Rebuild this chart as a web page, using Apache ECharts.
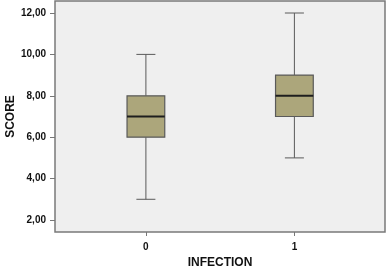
<!DOCTYPE html>
<html>
<head>
<meta charset="utf-8">
<script src="https://cdn.jsdelivr.net/npm/echarts@6/dist/echarts.min.js"></script>
<style>
  html, body { margin: 0; padding: 0; background: #fff; }
  #chart { width: 387px; height: 267px; }
</style>
</head>
<body>
<div id="chart"></div>
<script>
// groups on the x axis
const groups = [0, 1]
// box statistics per group
const mins = [3, 5]
const q1s = [6, 7]
const medians = [7, 8]
const q3s = [8, 9]
const maxs = [10, 12]
// y tick labels
const yTicks = [2, 4, 6, 8, 10, 12]

const boxData = groups.map((g, i) => [g, mins[i], q1s[i], medians[i], q3s[i], maxs[i]])

const BOX_W = 0.254 // in x units
const CAP_W = 0.128

function renderBox(params, api) {
  const x = api.value(0)
  const lo = api.coord([x, api.value(1)])
  const b1 = api.coord([x - BOX_W / 2, api.value(2)])
  const b2 = api.coord([x + BOX_W / 2, api.value(4)])
  const med = api.coord([x, api.value(3)])
  const hi = api.coord([x, api.value(5)])
  const capL = api.coord([x - CAP_W / 2, 5])[0]
  const capR = api.coord([x + CAP_W / 2, 5])[0]
  const stroke = { stroke: '#5a5a5a', lineWidth: 1 }
  return {
    type: 'group',
    children: [
      { type: 'line', shape: { x1: lo[0], y1: lo[1], x2: lo[0], y2: b1[1] }, style: stroke },
      { type: 'line', shape: { x1: hi[0], y1: hi[1], x2: hi[0], y2: b2[1] }, style: stroke },
      { type: 'line', shape: { x1: capL, y1: lo[1], x2: capR, y2: lo[1] }, style: stroke },
      { type: 'line', shape: { x1: capL, y1: hi[1], x2: capR, y2: hi[1] }, style: stroke },
      {
        type: 'rect',
        shape: { x: b1[0], y: b2[1], width: b2[0] - b1[0], height: b1[1] - b2[1] },
        style: { fill: '#aca67b', stroke: '#5a5a5a', lineWidth: 1.2 },
      },
      { type: 'line', shape: { x1: b1[0], y1: med[1], x2: b2[0], y2: med[1] }, style: { stroke: '#1e1e1e', lineWidth: 2 } },
    ],
  }
}

const chart = echarts.init(document.getElementById('chart'))
const labelFont = { fontFamily: 'Liberation Sans, Arial, sans-serif', fontWeight: 'bold', color: '#111' }

chart.setOption({
  animation: false,
  grid: {
    left: 55,
    right: 2,
    top: 1,
    bottom: 35,
    outerBoundsMode: 'none',
    containLabel: false,
    show: true,
    backgroundColor: '#efefef',
    borderColor: '#7a7a7a',
    borderWidth: 1.5,
  },
  xAxis: {
    type: 'value',
    min: -0.612,
    max: 1.61,
    name: 'INFECTION',
    nameLocation: 'middle',
    nameGap: 25,
    nameMoveOverlap: false,
    nameTextStyle: Object.assign({ fontSize: 12 }, labelFont),
    axisLine: { show: false, onZero: false },
    splitLine: { show: false },
    axisTick: { show: true, customValues: groups, length: 4, lineStyle: { color: '#777' } },
    axisLabel: Object.assign({ customValues: groups, fontSize: 10, margin: 10 }, labelFont),
  },
  yAxis: {
    type: 'value',
    min: 1.42,
    max: 12.58,
    name: 'SCORE',
    nameLocation: 'middle',
    nameGap: 38,
    nameMoveOverlap: false,
    nameTextStyle: Object.assign({ fontSize: 12 }, labelFont),
    axisLine: { show: false, onZero: false },
    splitLine: { show: false },
    axisTick: { show: true, customValues: yTicks, length: 5, lineStyle: { color: '#777' } },
    axisLabel: Object.assign({
      customValues: yTicks,
      fontSize: 10,
      margin: 9,
      formatter: (v) => v.toFixed(2).replace('.', ','),
    }, labelFont),
  },
  series: [
    {
      type: 'custom',
      renderItem: renderBox,
      encode: { x: 0, y: [1, 2, 3, 4, 5] },
      data: boxData,
    },
  ],
})
</script>
</body>
</html>
